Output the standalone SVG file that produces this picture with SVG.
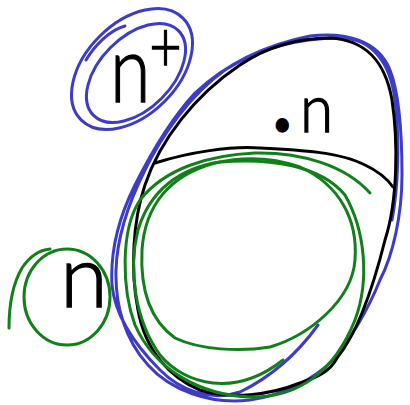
<svg xmlns="http://www.w3.org/2000/svg" width="410" height="405" viewBox="0 0 410 405">
<style>
.s{fill:none;stroke-width:3;stroke-linecap:round;stroke-linejoin:round}
.k{stroke:#000}
.b{stroke:#3c3cc8}
.g{stroke:#12801a}
.hand{font-family:Lato,Inter,"Open Sans",sans-serif;font-weight:300;fill:#000;stroke:#000;stroke-width:1.3}
</style>
<rect width="410" height="405" fill="#fff"/>
<g id="nplus">
<ellipse class="s b" cx="132" cy="69" rx="72" ry="46" transform="rotate(-45 132 69)"/>
<ellipse class="s b" cx="136" cy="73" rx="60" ry="36" transform="rotate(-45 136 73)"/>
<path class="s b" d="M 86 60 C 95 45, 110 30, 125 26"/>
<text class="hand" transform="translate(110,102) scale(0.8,1)" font-size="92">n<tspan x="49" y="-30" font-size="70">+</tspan></text>
</g>
<g id="nleft">
<ellipse class="s g" cx="67" cy="297" rx="43" ry="48"/>
<path class="s g" d="M 9 328 C 9 310, 12 285, 22 268 C 30 256, 40 250, 50 249"/>
<text class="hand" transform="translate(60,307)" font-size="87">n</text>
</g>
<g id="egg">
<path class="s b" d="M 318 325 C 300 350, 275 375, 240 392 C 210 402, 180 390, 160 370 C 135 345, 115 315, 112 285 C 110 250, 120 215, 135 185 C 150 155, 170 120, 195 93 C 225 65, 265 45, 310 36 C 345 32, 378 40, 390 70 C 400 95, 402 140, 402 175 C 402 215, 393 255, 380 280 C 368 310, 350 340, 333 360 C 315 378, 285 395, 250 400 C 210 405, 170 390, 148 365 C 125 340, 115 305, 116 270 C 117 235, 130 200, 145 170 C 162 135, 190 95, 225 70 C 260 48, 300 38, 340 38 C 370 38, 390 60, 395 100 C 400 140, 398 190, 392 220"/>
<path class="s k" d="M 330 38 C 365 40, 385 60, 392 100 C 398 140, 398 200, 385 240 C 375 280, 360 330, 337 358 C 330 372, 315 378, 300 383 C 270 395, 230 400, 200 390 C 170 378, 145 350, 138 310 C 130 270, 133 220, 145 185 C 160 140, 195 95, 240 65 C 270 45, 300 38, 330 38 Z"/>
<path class="s k" d="M 155 163 C 190 152, 230 146, 260 148 C 300 150, 340 152, 365 165 C 380 172, 388 180, 393 187"/>
<path class="s g" d="M 300 167 C 340 185, 358 220, 355 260 C 352 300, 310 335, 270 347 C 240 352, 200 350, 175 338 C 150 320, 140 290, 142 250 C 145 205, 170 175, 215 163 C 250 155, 280 160, 300 167"/>
<path class="s g" d="M 370 193 C 345 165, 300 152, 255 153 C 210 155, 165 168, 140 200 C 120 230, 122 290, 135 325 C 155 370, 200 395, 250 397 C 300 398, 335 370, 355 320 C 370 280, 365 230, 345 195 C 320 165, 270 158, 220 162 C 180 168, 150 190, 138 230 C 128 270, 135 320, 160 355 C 185 385, 235 398, 283 360"/>
<text class="hand" transform="translate(300,132) scale(0.9,1)" font-size="67"><tspan font-size="46" x="-33" y="7">•</tspan><tspan x="0" y="0">n</tspan></text>
</g>
</svg>
